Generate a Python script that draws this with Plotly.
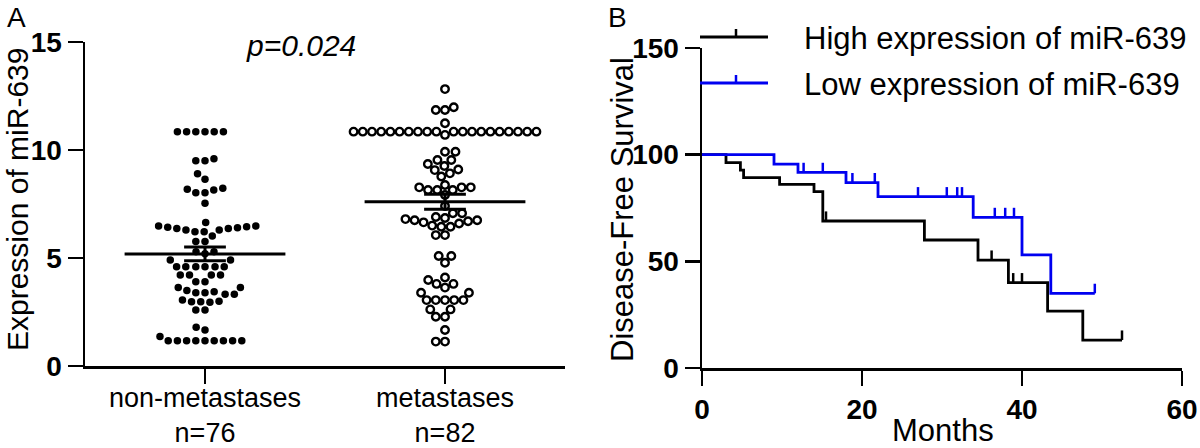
import math
import plotly.graph_objects as go

# ---------------- Panel A data ----------------
groups = ["non-metastases", "metastases"]
group_n = ["n=76", "n=82"]
y_ticks_a = [0, 5, 10, 15]

non_meta = [
    10.85, 10.85, 10.85, 10.85, 10.85, 10.85,
    9.6, 9.5, 9.5,
    8.9, 8.65,
    8.23, 8.15, 8.02, 8.02, 8.18,
    7.53,
    6.64,
    6.48, 6.42, 6.36, 6.30, 6.22, 6.22, 6.30, 6.36, 6.40, 6.45, 6.48,
    6.02,
    5.76, 5.76,
    5.29, 5.29, 5.20,
    4.91, 4.91,
    4.60, 4.60, 4.60, 4.60, 4.60, 4.60,
    4.21, 4.21, 4.21, 4.21,
    3.90, 3.90,
    3.64, 3.64, 3.49, 3.44, 3.39, 3.39, 3.32, 3.32,
    3.05, 2.98, 2.95, 3.00, 2.98,
    2.59, 2.59,
    1.79, 1.67,
    1.17, 1.17, 1.17, 1.17, 1.17, 1.17, 1.17, 1.17, 1.17, 1.36,
]

meta = [
    12.82,
    11.98, 11.85, 11.85,
    11.24,
    10.85, 10.85, 10.85, 10.85, 10.85, 10.85, 10.85, 10.85, 10.85, 10.85,
    10.85, 10.85, 10.85, 10.85, 10.85, 10.85, 10.85, 10.85, 10.85, 10.85,
    10.70,
    9.92, 9.92,
    9.54, 9.54,
    9.35, 9.26,
    9.10, 9.07, 8.92,
    8.77,
    8.38,
    8.27, 8.27, 8.27, 8.15, 8.15, 8.15,
    7.92,
    7.41,
    7.07, 7.07,
    6.80, 6.90, 6.70, 6.60, 6.65, 6.75, 6.75, 6.85, 6.45, 6.45, 6.50,
    6.06, 6.06,
    5.09, 5.09,
    4.78,
    4.10, 3.98,
    3.80, 3.80,
    3.63,
    3.39, 3.39,
    3.05, 3.05, 3.05, 3.05, 3.05,
    2.62, 2.62,
    2.28, 2.28,
    1.67,
    1.13, 1.13,
]

# ---------------- Panel B data ----------------
high_t = [0, 3.0, 4.8, 5.2, 9.7, 14.0, 15.1, 27.8, 34.5, 38.3, 43.2, 47.6, 52.5]
high_s = [100, 96.3, 92.8, 89.2, 86.1, 82.7, 68.9, 60.0, 50.6, 40.0, 26.7, 13.1, 13.1]
high_cens = [15.5, 36.2, 38.9, 40.0, 52.5]

low_t = [0, 9.0, 12.0, 18.0, 22.0, 33.9, 40.0, 43.6, 49.1]
low_s = [100, 95.6, 91.7, 86.9, 80.3, 70.6, 53.0, 35.0, 35.0]
low_cens = [12.7, 15.1, 18.8, 21.6, 27.0, 30.6, 31.9, 32.5, 36.6, 37.9, 39.0, 49.1]

series_names = ["High expression of miR-639", "Low expression of miR-639"]
series_colors = ["#000000", "#0000f0"]
x_ticks_b = [0, 20, 40, 60]
y_ticks_b = [0, 50, 100, 150]

# ---------------- layout geometry (page pixels) ----------------
W, H = 1200, 448
FONT = "Liberation Sans, Arial, Helvetica, sans-serif"
A_X = (85, 565)
A_Y = (42, 366)
B_X = (702, 1182)
B_Y = (48, 368)


def pxx(x):
    return x / W


def pyy(y):
    return 1 - y / H


A_YRANGE = (0, 15)
A_XRANGE = (-0.5, 1.5)
ypx_a = (A_Y[1] - A_Y[0]) / (A_YRANGE[1] - A_YRANGE[0])
xpx_a = (A_X[1] - A_X[0]) / (A_XRANGE[1] - A_XRANGE[0])


def swarm(vals, d=9.2):
    """Deterministic beeswarm offsets (category units)."""
    order = sorted(range(len(vals)), key=lambda i: vals[i])
    placed = []
    offs = [0.0] * len(vals)
    for i in order:
        y = vals[i] * ypx_a
        neigh = [(px, py) for (px, py) in placed if abs(py - y) < d]
        cands = [0.0]
        for px, py in neigh:
            dx = math.sqrt(max(d * d - (py - y) ** 2, 0))
            cands += [px + dx, px - dx]
        cands.sort(key=lambda c: (abs(c), c))
        chosen = 0.0
        for c in cands:
            if all((c - px) ** 2 + (y - py) ** 2 >= d * d - 1e-6 for px, py in neigh):
                chosen = c
                break
        placed.append((chosen, y))
        offs[i] = chosen / xpx_a
    return offs


fig = go.Figure()

# ---- Panel A scatter ----
for gi, (vals, sym, msize, lw) in enumerate([
    (non_meta, "circle", 7.5, 0),
    (meta, "circle-open", 7.5, 2.4),
]):
    offs = swarm(vals)
    fig.add_trace(go.Scatter(
        x=[gi + o for o in offs], y=vals, mode="markers",
        marker=dict(symbol=sym, size=msize, color="black",
                    line=dict(color="black", width=lw)),
        xaxis="x", yaxis="y", showlegend=False, cliponaxis=False,
    ))
    n = len(vals)
    mean = sum(vals) / n
    sd = math.sqrt(sum((v - mean) ** 2 for v in vals) / (n - 1))
    sem = sd / math.sqrt(n)
    hw, cw = 0.335, 0.087
    fig.add_trace(go.Scatter(
        x=[gi - hw, gi + hw, None, gi - cw, gi + cw, None, gi - cw, gi + cw, None, gi, gi],
        y=[mean, mean, None, mean + sem, mean + sem, None, mean - sem, mean - sem, None,
           mean - sem, mean + sem],
        mode="lines", line=dict(color="black", width=3),
        xaxis="x", yaxis="y", showlegend=False, cliponaxis=False,
    ))


# ---- Panel B KM curves ----
def surv_at(ts, ss, t):
    s = ss[0]
    for ti, si in zip(ts, ss):
        if ti <= t:
            s = si
    return s


for ts, ss, cens, name, col in [
    (high_t, high_s, high_cens, series_names[0], series_colors[0]),
    (low_t, low_s, low_cens, series_names[1], series_colors[1]),
]:
    fig.add_trace(go.Scatter(
        x=ts, y=ss, mode="lines", line=dict(color=col, width=2.8, shape="hv"),
        xaxis="x2", yaxis="y2", showlegend=False, name=name, cliponaxis=False,
    ))
    cx, cy = [], []
    for t in cens:
        s = surv_at(ts, ss, t)
        cx += [t, t, None]
        cy += [s, s + 4.5, None]
    fig.add_trace(go.Scatter(
        x=cx, y=cy, mode="lines", line=dict(color=col, width=2.5),
        xaxis="x2", yaxis="y2", showlegend=False, cliponaxis=False,
    ))

axis_common = dict(
    showline=True, linewidth=2.5, linecolor="black", ticks="outside",
    ticklen=15, tickwidth=2.5, tickcolor="black", showgrid=False, zeroline=False,
    fixedrange=True, automargin=False,
)
tickfont_bold = dict(family=FONT, size=28, color="black", weight="bold")

fig.update_layout(
    width=W, height=H, margin=dict(l=0, r=0, t=0, b=0, pad=0, autoexpand=False),
    paper_bgcolor="white", plot_bgcolor="white", showlegend=False,
    xaxis=dict(domain=[pxx(A_X[0]), pxx(A_X[1])], range=list(A_XRANGE),
               tickvals=[0, 1], ticktext=[f"{g}<br>{n}" for g, n in zip(groups, group_n)],
               tickfont=dict(family=FONT, size=27, color="black"), anchor="y",
               ticklabelstandoff=-9, **axis_common),
    yaxis=dict(domain=[pyy(A_Y[1]), pyy(A_Y[0])], range=list(A_YRANGE),
               tickvals=y_ticks_a, tickfont=tickfont_bold, anchor="x", **axis_common),
    xaxis2=dict(domain=[pxx(B_X[0]), pxx(B_X[1])], range=[0, 60],
                tickvals=x_ticks_b, tickfont=tickfont_bold, anchor="y2", **axis_common),
    yaxis2=dict(domain=[pyy(B_Y[1]), pyy(B_Y[0])], range=[0, 150],
                tickvals=y_ticks_b, tickfont=tickfont_bold, anchor="x2", **axis_common),
)

ann = []


def add_text(text, x, y, size, angle=0, italic=False, xanchor="center"):
    ann.append(dict(
        text=text, x=pxx(x), y=pyy(y), xref="paper", yref="paper",
        showarrow=False, textangle=angle, xanchor=xanchor, yanchor="middle",
        font=dict(family=FONT, size=size, color="black",
                  style="italic" if italic else "normal"),
    ))


add_text("A", 16, 17, 28)
add_text("B", 617, 17, 28)
add_text("Expression of miR-639", 17, 200, 30, angle=-90)
add_text("p=0.024", 301, 46, 30, italic=True)
add_text("Disease-Free Survival", 622, 210, 31, angle=-90)
add_text("Months", 943, 430, 31)

# legend (custom)
shapes = []
leg_y = [37, 83]
for name, col, ly in zip(series_names, series_colors, leg_y):
    shapes.append(dict(type="line", xref="paper", yref="paper",
                       x0=pxx(700), x1=pxx(768), y0=pyy(ly), y1=pyy(ly),
                       line=dict(color=col, width=2.8)))
    shapes.append(dict(type="line", xref="paper", yref="paper",
                       x0=pxx(736), x1=pxx(736), y0=pyy(ly), y1=pyy(ly - 8),
                       line=dict(color=col, width=2.5)))
    add_text(name, 802, ly + 2, 31, xanchor="left")

fig.update_layout(annotations=ann, shapes=shapes)
fig.write_html(
    "out.html",
    config={"displayModeBar": False, "staticPlot": True},
    post_script=(
        "document.documentElement.style.overflow='hidden';"
        "document.body.style.margin='0';"
        "document.body.style.overflow='hidden';"
    ),
)
